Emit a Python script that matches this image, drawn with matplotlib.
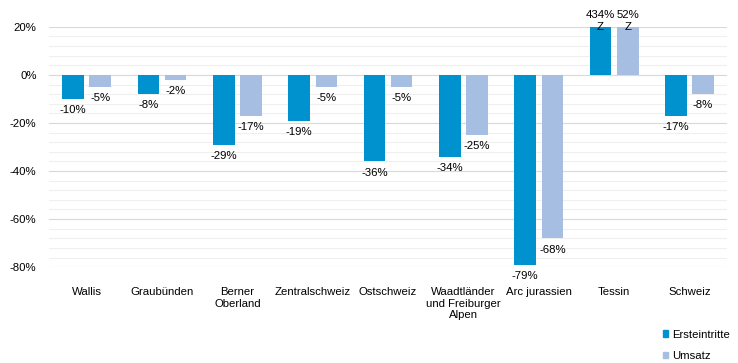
import matplotlib.pyplot as plt
import numpy as np
from matplotlib.ticker import MultipleLocator, FuncFormatter
from matplotlib.patches import Patch

plt.rcParams['font.family'] = ['Liberation Sans', 'DejaVu Sans']

# Data
regions = ['Wallis', 'Graubünden', 'Berner\nOberland', 'Zentralschweiz', 'Ostschweiz',
           'Waadtländer\nund Freiburger\nAlpen', 'Arc jurassien', 'Tessin', 'Schweiz']
ersteintritte = [-10, -8, -29, -19, -36, -34, -79, 434, -17]
umsatz = [-5, -2, -17, -5, -5, -25, -68, 52, -8]

dark_blue = '#0092CF'
light_blue = '#A6BEE2'
y_min, y_max = -80, 20
fs = 8.2

fig = plt.figure(figsize=(7.38, 3.63), dpi=100)
ax = fig.add_axes([0.0664, 0.264, 0.919, 0.662])

x = np.arange(len(regions))
width = 0.286
offset = 0.18


def draw_series(values, pos, color):
    shown = [min(v, y_max) for v in values]
    ax.bar(pos, shown, width, color=color, zorder=2)
    for xi, v, s in zip(pos, values, shown):
        if v > y_max:
            # bar cut off at the top of the axis
            ax.text(xi, s, 'Z', ha='center', va='center', fontsize=fs, zorder=3)
            ax.annotate(f'{v}%', (xi, s), xytext=(0, 5), textcoords='offset points',
                        ha='center', va='bottom', fontsize=fs, annotation_clip=False)
        else:
            ax.annotate(f'{v}%', (xi, s), xytext=(0, -4.5), textcoords='offset points',
                        ha='center', va='top', fontsize=fs, annotation_clip=False)


draw_series(ersteintritte, x - offset, dark_blue)
draw_series(umsatz, x + offset, light_blue)

ax.set_xlim(-0.5, len(regions) - 0.5)
ax.set_ylim(y_min, y_max)
ax.yaxis.set_major_locator(MultipleLocator(20))
ax.yaxis.set_minor_locator(MultipleLocator(4))
ax.yaxis.set_major_formatter(FuncFormatter(lambda v, p: f'{v:.0f}%'))
ax.grid(which='major', axis='y', color='#d9d9d9', linewidth=0.8, zorder=0)
ax.grid(which='minor', axis='y', color='#efefef', linewidth=0.8, zorder=0)
ax.set_axisbelow(True)

ax.set_xticks(x)
ax.set_xticklabels(regions, fontsize=fs, linespacing=1.15)
ax.tick_params(axis='x', length=0, pad=14.5)
ax.tick_params(axis='y', which='both', length=0, labelsize=fs, pad=9)
for s in ax.spines.values():
    s.set_visible(False)

handles = [Patch(color=dark_blue, label='Ersteintritte'), Patch(color=light_blue, label='Umsatz')]
fig.legend(handles=handles, loc='lower left', bbox_to_anchor=(0.884, -0.024), frameon=False,
           fontsize=fs, handlelength=0.45, handleheight=0.45, handletextpad=0.35, labelspacing=1.05)

fig.savefig('out.png', dpi=100)
